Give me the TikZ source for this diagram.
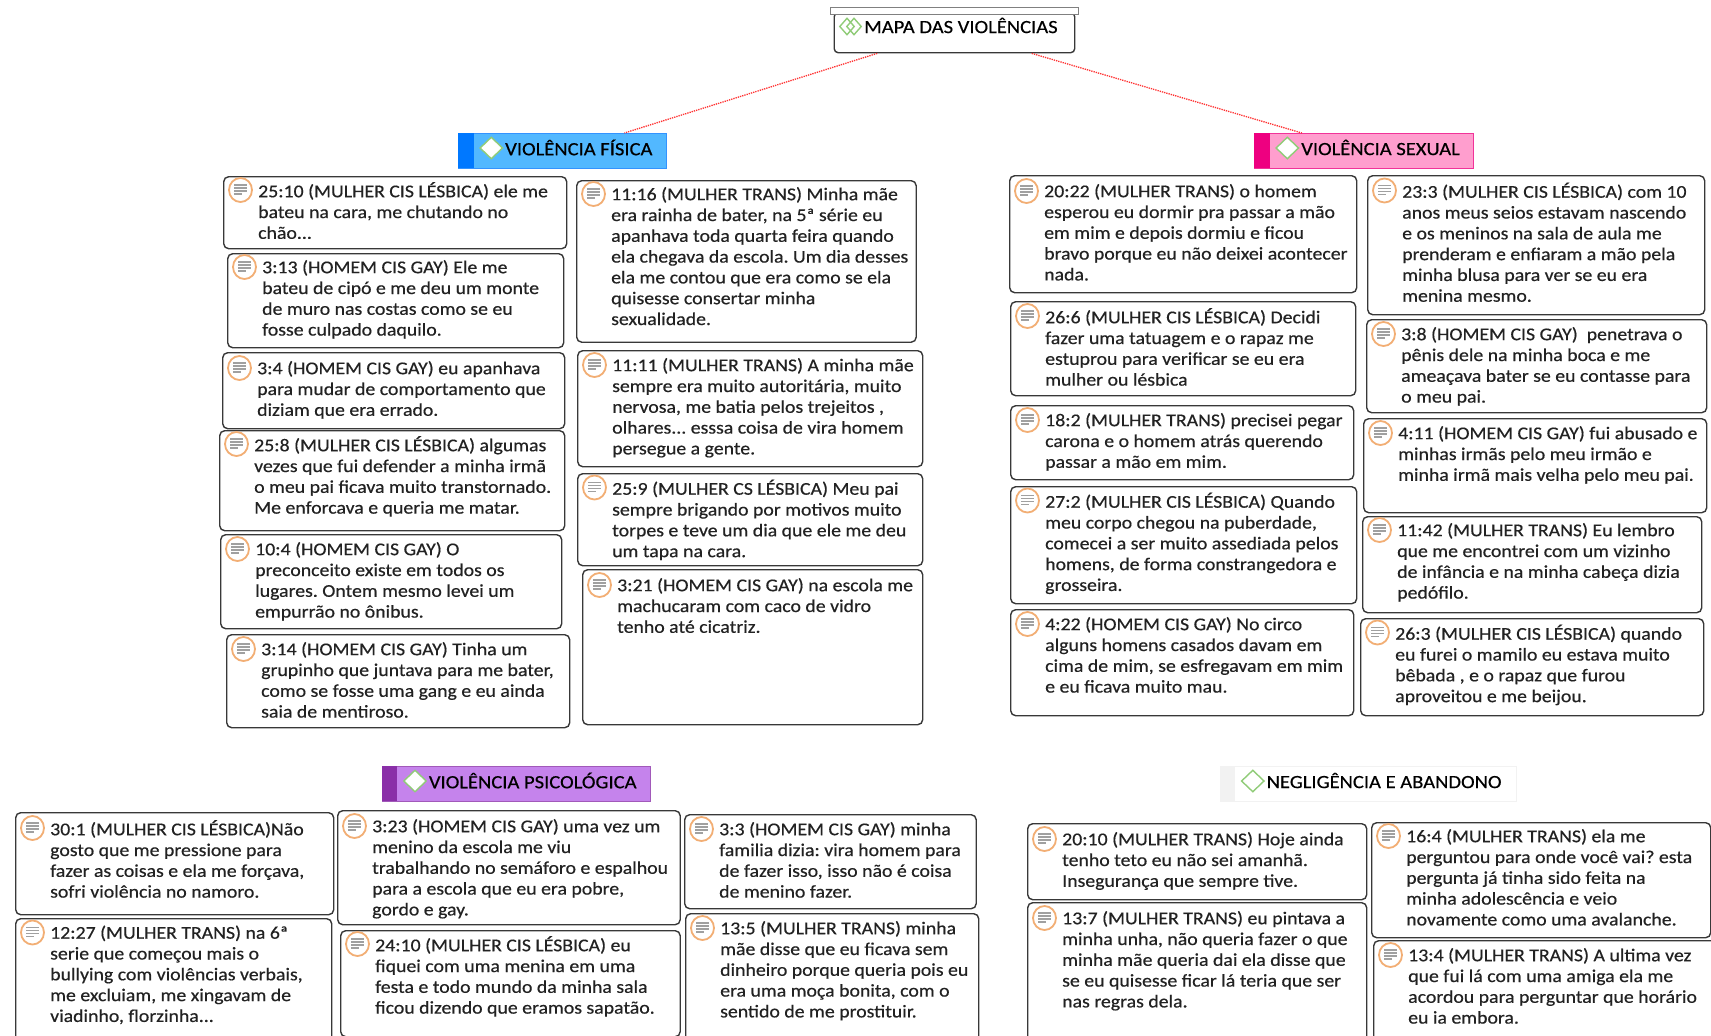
\documentclass[tikz,border=0pt]{standalone}
\usepackage{fontspec}
\setmainfont[FakeStretch=1.1,FakeBold=0.45]{Carlito}
\usetikzlibrary{shapes.geometric}

\definecolor{linkred}{HTML}{FF3030}
\definecolor{boxline}{HTML}{383838}
\definecolor{inktext}{HTML}{222222}
\definecolor{iconring}{HTML}{F2AE74}
\definecolor{iconline}{HTML}{A0A0A0}
\definecolor{leafgreen}{HTML}{90CC78}
\definecolor{fisfill}{HTML}{52B8FF}
\definecolor{fisband}{HTML}{0078FF}
\definecolor{sexfill}{HTML}{FF9ECE}
\definecolor{sexband}{HTML}{EE0080}
\definecolor{psifill}{HTML}{C583EC}
\definecolor{psiband}{HTML}{8A2FA8}
\definecolor{negband}{HTML}{F2F2F2}

\tikzset{
  notebox/.style={draw=boxline, line width=1.4pt, rounded corners=5pt, fill=white,
    anchor=north west, inner sep=0pt},
  notetext/.style={anchor=north west, inner sep=0pt, align=left, text=inktext,
    font=\frenchspacing\fontsize{18}{20.8}\selectfont},
  noteline/.style={draw=iconline, line width=1.6pt},
  noteicon/.style={draw=iconring, line width=1.8pt, fill=white, ellipse,
    minimum width=23pt, minimum height=24pt, inner sep=0pt,
    path picture={
      \draw[noteline] ([shift={(-6.5pt,5pt)}]path picture bounding box.center) -- ++(13pt,0pt);
      \draw[noteline] ([shift={(-6.5pt,2pt)}]path picture bounding box.center) -- ++(13pt,0pt);
      \draw[noteline] ([shift={(-6.5pt,-1pt)}]path picture bounding box.center) -- ++(13pt,0pt);
      \draw[noteline] ([shift={(-6.5pt,-4pt)}]path picture bounding box.center) -- ++(8pt,0pt);
    }},
  headbox/.style={anchor=north west, inner sep=0pt, line width=1pt},
  headband/.style={anchor=north west, inner sep=0pt},
  headtext/.style={anchor=west, inner sep=0pt, text=black,
    font=\fontsize{18.7}{22}\selectfont},
  leaf/.style={diamond, draw=leafgreen, line width=1.4pt, inner sep=0pt,
    minimum width=23pt, minimum height=22pt},
  link/.style={draw=linkred, line width=1.3pt, densely dotted}
}

% name, x, y, width, height, offset of the first line, text
\newcommand{\notebox}[7]{%
  \node[notebox, minimum width=#4pt, minimum height=#5pt] (#1) at (#2,#3) {};
  \node[noteicon] (#1-icon) at ([shift={(17.5,#6)}]#1.north west) {};
  \node[notetext] (#1-text) at ([shift={(35,#6-8)}]#1.north west)
    {\rule{0pt}{14pt}#7};
}

\begin{document}
\begin{tikzpicture}[x=1pt, y=-1pt]
  \useasboundingbox (0,0) rectangle (1711,1036);
  \clip (0,0) rectangle (1711,1036);

  % title
  \node[headbox, draw=boxline, line width=1.4pt, rounded corners=4pt, fill=white,
    minimum width=240.5pt, minimum height=40pt] (mapa) at (833.5,12) {};
  \node[headbox, draw=gray, line width=1.2pt, fill=white,
    minimum width=248pt, minimum height=6.5pt] (mapabar) at (829.5,7) {};
  \node[leaf, fill=none, minimum width=15pt, minimum height=17pt] (mapaleafa) at (847,26.5) {};
  \node[leaf, fill=none, minimum width=15pt, minimum height=17pt] (mapaleafb) at (854,26.5) {};
  \node[headtext] (mapatext) at (864,25.5) {MAPA DAS VIOLÊNCIAS};

  % headers
  \foreach \name/\nx/\ny/\nw/\cfill/\cedge/\cband/\txt in {
    fisica/458/133/208/fisfill/fisband!80!white/fisband/VIOLÊNCIA FÍSICA,
    sexual/1254/133/218.5/sexfill/sexband!80!white/sexband/VIOLÊNCIA SEXUAL,
    psico/381.7/766/268.7/psifill/psiband!80!white/psiband/VIOLÊNCIA PSICOLÓGICA,
    negli/1219.5/766/296/white/negband/negband/NEGLIGÊNCIA E ABANDONO
  } {
    \node[headbox, draw=\cedge, fill=\cfill, minimum width=\nw pt, minimum height=34.5pt]
      (\name) at (\nx,\ny) {};
    \node[headband, fill=\cband, minimum width=15.5pt, minimum height=34.5pt]
      (\name-band) at (\name.north west) {};
    \node[leaf, fill=white] (\name-leaf) at ([shift={(33.3,15)}]\name.north west) {};
    \node[headtext] (\name-text) at ([shift={(47,14.5)}]\name.north west) {\txt};
  }

  \draw[link] (mapa.-165) -- (fisica.16);
  \draw[link] (mapa.-15) -- (sexual.164);

  % notes
  \notebox{fisa}{223}{176}{343}{72}{14}{25:10 (MULHER CIS LÉSBICA) ele me\\bateu na cara, me chutando no\\chão...}
  \notebox{fisb}{227}{253}{336}{94}{14}{3:13 (HOMEM CIS GAY) Ele me\\bateu de cipó e me deu um monte\\de muro nas costas como se eu\\fosse culpado daquilo.}
  \notebox{fisc}{222}{352}{342}{76}{16}{3:4 (HOMEM CIS GAY) eu apanhava\\para mudar de comportamento que\\diziam que era errado.}
  \notebox{fisd}{219}{430}{345}{100}{14}{25:8 (MULHER CIS LÉSBICA) algumas\\vezes que fui defender a minha irmã\\o meu pai ficava muito transtornado.\\Me enforcava e queria me matar.}
  \notebox{fise}{220}{534}{341}{94}{15}{10:4 (HOMEM CIS GAY) O\\preconceito existe em todos os\\lugares. Ontem mesmo levei um\\empurrão no ônibus.}
  \notebox{fisf}{226}{634}{343}{93}{15}{3:14 (HOMEM CIS GAY) Tinha um\\grupinho que juntava para me bater,\\como se fosse uma gang e eu ainda\\saia de mentiroso.}
  \notebox{fisg}{576}{180}{339.5}{161.5}{14}{11:16 (MULHER TRANS) Minha mãe\\era rainha de bater, na 5ª série eu\\apanhava toda quarta feira quando\\ela chegava da escola. Um dia desses\\ela me contou que era como se ela\\quisesse consertar minha\\sexualidade.}
  \notebox{fish}{577}{350}{345}{116}{15}{11:11 (MULHER TRANS) A minha mãe\\sempre era muito autoritária, muito\\nervosa, me batia pelos trejeitos ,\\olhares... esssa coisa de vira homem\\persegue a gente.}
  \notebox{fisi}{577}{473}{345}{92}{14.5}{25:9 (MULHER CS LÉSBICA) Meu pai\\sempre brigando por motivos muito\\torpes e teve um dia que ele me deu\\um tapa na cara.}
  \notebox{fisj}{582}{569}{340}{155}{16}{3:21 (HOMEM CIS GAY) na escola me\\machucaram com caco de vidro\\tenho até cicatriz.}
  \notebox{sexa}{1009}{175}{347}{117}{16}{20:22 (MULHER TRANS) o homem\\esperou eu dormir pra passar a mão\\em mim e depois dormiu e ficou\\bravo porque eu não deixei acontecer\\nada.}
  \notebox{sexb}{1010}{301}{345}{94}{15}{26:6 (MULHER CIS LÉSBICA) Decidi\\fazer uma tatuagem e o rapaz me\\estuprou para verificar se eu era\\mulher ou lésbica}
  \notebox{sexc}{1010}{405}{343}{74}{15}{18:2 (MULHER TRANS) precisei pegar\\carona e o homem atrás querendo\\passar a mão em mim.}
  \notebox{sexd}{1010}{486}{346}{117}{14.5}{27:2 (MULHER CIS LÉSBICA) Quando\\meu corpo chegou na puberdade,\\comecei a ser muito assediada pelos\\homens, de forma constrangedora e\\grosseira.}
  \notebox{sexe}{1010}{609}{343}{106}{15}{4:22 (HOMEM CIS GAY) No circo\\alguns homens casados davam em\\cima de mim, se esfregavam em mim\\e eu ficava muito mau.}
  \notebox{sexf}{1367}{175}{337}{139}{15.5}{23:3 (MULHER CIS LÉSBICA) com 10\\anos meus seios estavam nascendo\\e os meninos na sala de aula me\\prenderam e enfiaram a mão pela\\minha blusa para ver se eu era\\menina mesmo.}
  \notebox{sexg}{1366}{319}{340}{93}{15}{3:8 (HOMEM CIS GAY)\ \ penetrava o\\pênis dele na minha boca e me\\ameaçava bater se eu contasse para\\o meu pai.}
  \notebox{sexh}{1363}{418}{343}{94}{15}{4:11 (HOMEM CIS GAY) fui abusado e\\minhas irmãs pelo meu irmão e\\minha irmã mais velha pelo meu pai.}
  \notebox{sexi}{1362}{516}{339}{96}{14}{11:42 (MULHER TRANS) Eu lembro\\que me encontrei com um vizinho\\de infância e na minha cabeça dizia\\pedófilo.}
  \notebox{sexj}{1360}{618}{343}{97}{14.5}{26:3 (MULHER CIS LÉSBICA) quando\\eu furei o mamilo eu estava muito\\bêbada , e o rapaz que furou\\aproveitou e me beijou.}
  \notebox{psia}{15}{812}{318}{102}{16}{30:1 (MULHER CIS LÉSBICA)Não\\gosto que me pressione para\\fazer as coisas e ela me forçava,\\sofri violência no namoro.}
  \notebox{psib}{15}{918}{316}{140}{14.5}{12:27 (MULHER TRANS) na 6ª\\serie que começou mais o\\bullying com violências verbais,\\me excluiam, me xingavam de\\viadinho, florzinha...}
  \notebox{psic}{337}{810}{342.5}{114}{16}{3:23 (HOMEM CIS GAY) uma vez um\\menino da escola me viu\\trabalhando no semáforo e espalhou\\para a escola que eu era pobre,\\gordo e gay.}
  \notebox{psid}{340}{930}{339.5}{106}{14}{24:10 (MULHER CIS LÉSBICA) eu\\fiquei com uma menina em uma\\festa e todo mundo da minha sala\\ficou dizendo que eramos sapatão.}
  \notebox{psie}{684}{814}{291.5}{94}{15}{3:3 (HOMEM CIS GAY) minha\\familia dizia: vira homem para\\de fazer isso, isso não é coisa\\de menino fazer.}
  \notebox{psif}{685}{913}{293}{140}{15}{13:5 (MULHER TRANS) minha\\mãe disse que eu ficava sem\\dinheiro porque queria pois eu\\era uma moça bonita, com o\\sentido de me prostituir.}
  \notebox{nega}{1027}{823}{339}{76}{16}{20:10 (MULHER TRANS) Hoje ainda\\tenho teto eu não sei amanhã.\\Insegurança que sempre tive.}
  \notebox{negb}{1027}{902}{339}{150}{16}{13:7 (MULHER TRANS) eu pintava a\\minha unha, não queria fazer o que\\minha mãe queria dai ela disse que\\se eu quisesse ficar lá teria que ser\\nas regras dela.}
  \notebox{negc}{1371}{822}{339}{115}{14}{16:4 (MULHER TRANS) ela me\\perguntou para onde você vai? esta\\pergunta já tinha sido feita na\\minha adolescência e veio\\novamente como uma avalanche.}
  \notebox{negd}{1373}{940}{345}{110}{15}{13:4 (MULHER TRANS) A ultima vez\\que fui lá com uma amiga ela me\\acordou para perguntar que horário\\eu ia embora.}
\end{tikzpicture}
\end{document}
